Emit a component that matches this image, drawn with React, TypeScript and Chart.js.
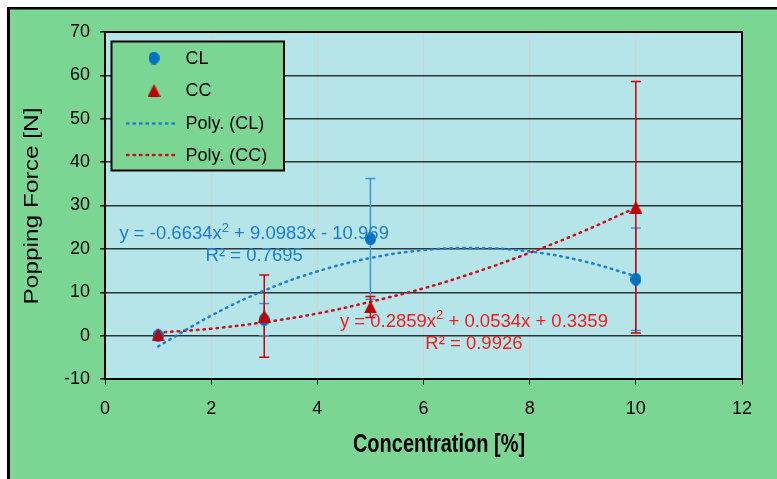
import React, { useEffect, useRef } from "react";
import { Chart, registerables } from "chart.js";

Chart.register(...registerables);

// ---- data ----
const concentrations = [1, 3, 5, 10];
const clValues = [0.0, 3.7, 22.3, 13.0];
const clErrors = [0.3, 3.7, 13.9, 11.8];
const ccValues = [0.2, 4.5, 6.6, 29.6];
const ccErrors = [0.3, 9.5, 2.4, 29.0];

const trendX = [1, 2, 3, 4, 5, 6, 7, 8, 9, 10];
const polyCL = [-2.5, 4.6, 10.4, 14.8, 17.9, 19.7, 20.2, 19.4, 17.2, 13.7];
const polyCC = [0.7, 1.6, 3.1, 5.1, 7.8, 10.9, 14.7, 19.1, 24.0, 29.5];

const xMin = 0;
const xMax = 12;
const xStep = 2;
const yMin = -10;
const yMax = 70;
const yStep = 10;

const legendLabels = ["CL", "CC", "Poly. (CL)", "Poly. (CC)"];
// equation parts: [before superscript, superscript, after superscript]
const eqCL = ["y = -0.6634x", "2", " + 9.0983x - 10.969"];
const r2CL = "R² = 0.7695";
const eqCC = ["y = 0.2859x", "2", " + 0.0534x + 0.3359"];
const r2CC = "R² = 0.9926";
const xTitle = "Concentration [%]";
const yTitle = "Popping Force [N]";

// ---- styles ----
const GREEN = "#7cd693";
const PLOT_BG = "#b5e5e8";
const BLUE = "#0070c0";
const BLUE_ERR = "#3d92d6";
const BLUE_TREND = "#1f7fd0";
const BLUE_TEXT = "#1b7dcd";
const RED = "#c00000";
const RED_ERR = "#d00000";
const RED_TREND = "#c8101c";
const RED_TEXT = "#f01c1c";
const FONT = "'Liberation Sans', Arial, sans-serif";

function makeEllipse(w: number, h: number, color: string) {
  const c = document.createElement("canvas");
  c.width = w;
  c.height = h;
  const ctx = c.getContext("2d")!;
  ctx.fillStyle = color;
  ctx.beginPath();
  ctx.ellipse(w / 2, h / 2, w / 2, h / 2, 0, 0, Math.PI * 2);
  ctx.fill();
  return c;
}

function makeTriangle(w: number, h: number, color: string) {
  const c = document.createElement("canvas");
  c.width = w;
  c.height = h;
  const ctx = c.getContext("2d")!;
  ctx.fillStyle = color;
  ctx.beginPath();
  ctx.moveTo(w / 2, 0);
  ctx.lineTo(w, h);
  ctx.lineTo(0, h);
  ctx.closePath();
  ctx.fill();
  return c;
}

function drawSupText(ctx: CanvasRenderingContext2D, parts: string[], cx: number, cy: number, size: number) {
  const main = `${size}px ${FONT}`;
  const sup = `${Math.round(size * 0.68)}px ${FONT}`;
  ctx.font = main;
  const w0 = ctx.measureText(parts[0]).width;
  const w2 = ctx.measureText(parts[2]).width;
  ctx.font = sup;
  const w1 = ctx.measureText(parts[1]).width;
  const total = w0 + w1 + w2;
  let x = cx - total / 2;
  ctx.textAlign = "left";
  ctx.textBaseline = "middle";
  ctx.font = main;
  ctx.fillText(parts[0], x, cy);
  x += w0;
  ctx.font = sup;
  ctx.fillText(parts[1], x, cy - size * 0.33);
  x += w1;
  ctx.font = main;
  ctx.fillText(parts[2], x, cy);
}

export default function App() {
  const ref = useRef<HTMLCanvasElement | null>(null);

  useEffect(() => {
    const canvas = ref.current;
    if (!canvas) return;

    const circleImg = makeEllipse(11, 13, BLUE);
    const triImg = makeTriangle(13, 13, RED);

    const drawErrorBars = (chart: any, values: number[], errs: number[], color: string) => {
      const { ctx } = chart;
      const xs = chart.scales.x;
      const ys = chart.scales.y;
      ctx.save();
      ctx.strokeStyle = color;
      ctx.lineWidth = 1.5;
      for (let i = 0; i < concentrations.length; i++) {
        const px = xs.getPixelForValue(concentrations[i]);
        const top = ys.getPixelForValue(values[i] + errs[i]);
        const bot = ys.getPixelForValue(values[i] - errs[i]);
        ctx.beginPath();
        ctx.moveTo(px, top);
        ctx.lineTo(px, bot);
        ctx.moveTo(px - 5, top);
        ctx.lineTo(px + 5, top);
        ctx.moveTo(px - 5, bot);
        ctx.lineTo(px + 5, bot);
        ctx.stroke();
      }
      ctx.restore();
    };

    const plugin = {
      id: "custom",
      beforeDraw(chart: any) {
        const { ctx, chartArea: a, width, height } = chart;
        ctx.save();
        ctx.fillStyle = GREEN;
        ctx.fillRect(0, 0, width, height);
        ctx.fillStyle = "#000";
        ctx.fillRect(0, 0, width, 2.5);
        ctx.fillRect(0, 0, 3, height);
        ctx.fillStyle = PLOT_BG;
        ctx.fillRect(a.left, a.top, a.right - a.left, a.bottom - a.top);
        ctx.restore();
      },
      beforeDatasetsDraw(chart: any) {
        drawErrorBars(chart, clValues, clErrors, BLUE_ERR);
        drawErrorBars(chart, ccValues, ccErrors, RED_ERR);
      },
      afterDatasetsDraw(chart: any) {
        const { ctx, chartArea: a } = chart;
        const xs = chart.scales.x;
        const ys = chart.scales.y;
        ctx.save();
        // plot border
        ctx.strokeStyle = "#000";
        ctx.lineWidth = 2;
        ctx.strokeRect(a.left, a.top, a.right - a.left, a.bottom - a.top);

        // equations
        ctx.fillStyle = BLUE_TEXT;
        drawSupText(ctx, eqCL, xs.getPixelForValue(2.81), ys.getPixelForValue(23.4), 18.5);
        ctx.textAlign = "center";
        ctx.font = `18.5px ${FONT}`;
        ctx.fillText(r2CL, xs.getPixelForValue(2.81), ys.getPixelForValue(18.3));
        ctx.fillStyle = RED_TEXT;
        drawSupText(ctx, eqCC, xs.getPixelForValue(6.95), ys.getPixelForValue(3.2), 18.5);
        ctx.textAlign = "center";
        ctx.font = `18.5px ${FONT}`;
        ctx.fillText(r2CC, xs.getPixelForValue(6.95), ys.getPixelForValue(-2.0));

        // legend box
        const lx = 104.5, ly = 34.5, lw = 172.5, lh = 129;
        ctx.fillStyle = GREEN;
        ctx.fillRect(lx, ly, lw, lh);
        ctx.strokeStyle = "#000";
        ctx.lineWidth = 2;
        ctx.strokeRect(lx, ly, lw, lh);
        const rows = [51, 83.5, 116.5, 148];
        const mx = 147;
        ctx.drawImage(circleImg, mx - circleImg.width / 2, rows[0] - circleImg.height / 2);
        ctx.drawImage(triImg, mx - triImg.width / 2, rows[1] - triImg.height / 2);
        ctx.lineWidth = 2.5;
        ctx.lineCap = "round";
        ctx.setLineDash([1.5, 5]);
        ctx.strokeStyle = BLUE_TREND;
        ctx.beginPath();
        ctx.moveTo(120, rows[2]);
        ctx.lineTo(169, rows[2]);
        ctx.stroke();
        ctx.strokeStyle = RED_TREND;
        ctx.beginPath();
        ctx.moveTo(120, rows[3]);
        ctx.lineTo(169, rows[3]);
        ctx.stroke();
        ctx.setLineDash([]);
        ctx.fillStyle = "#000";
        ctx.font = `18px ${FONT}`;
        ctx.textAlign = "left";
        ctx.textBaseline = "middle";
        legendLabels.forEach((t, i) => ctx.fillText(t, 178.5, rows[i] + 1));

        // axis titles
        ctx.textAlign = "center";
        ctx.save();
        ctx.translate(432, 438);
        ctx.scale(1, 1.3);
        ctx.font = `bold 20px ${FONT}`;
        ctx.fillText(xTitle, 0, 0);
        ctx.restore();

        ctx.save();
        ctx.translate(25.5, 199);
        ctx.rotate(-Math.PI / 2);
        ctx.font = `21px ${FONT}`;
        const w = ctx.measureText(yTitle).width;
        ctx.scale(197 / w, 1);
        ctx.fillText(yTitle, 0, 0);
        ctx.restore();

        ctx.restore();
      },
    };

    const chart = new Chart(canvas, {
      type: "scatter",
      data: {
        datasets: [
          {
            label: legendLabels[0],
            data: concentrations.map((x, i) => ({ x, y: clValues[i] })),
            pointStyle: circleImg as any,
            pointRadius: 6,
            backgroundColor: BLUE,
            borderColor: BLUE,
            order: 1,
          },
          {
            label: legendLabels[1],
            data: concentrations.map((x, i) => ({ x, y: ccValues[i] })),
            pointStyle: triImg as any,
            pointRadius: 6,
            backgroundColor: RED,
            borderColor: RED,
            order: 0,
          },
          {
            type: "line",
            label: legendLabels[2],
            data: trendX.map((x, i) => ({ x, y: polyCL[i] })),
            borderColor: BLUE_TREND,
            borderWidth: 2.5,
            borderDash: [1.5, 5],
            borderCapStyle: "round",
            pointRadius: 0,
            tension: 0.4,
            fill: false,
            order: 2,
          } as any,
          {
            type: "line",
            label: legendLabels[3],
            data: trendX.map((x, i) => ({ x, y: polyCC[i] })),
            borderColor: RED_TREND,
            borderWidth: 2.5,
            borderDash: [1.5, 5],
            borderCapStyle: "round",
            pointRadius: 0,
            tension: 0.4,
            fill: false,
            order: 3,
          } as any,
        ],
      },
      options: {
        responsive: false,
        animation: false,
        devicePixelRatio: 1,
        layout: { padding: { left: 0, top: 25, right: 35, bottom: 40 } },
        plugins: {
          legend: { display: false },
          tooltip: { enabled: false },
        },
        scales: {
          x: {
            type: "linear",
            min: xMin,
            max: xMax,
            ticks: {
              stepSize: xStep,
              color: "#000",
              font: { family: FONT, size: 18 },
              padding: 13,
              maxRotation: 0,
            },
            grid: {
              color: "#d2d2d2",
              lineWidth: 1,
              tickColor: "#000",
              tickLength: 6,
              drawTicks: true,
            },
            border: { display: false },
            afterFit: (s: any) => {
              s.height = 60;
            },
          },
          y: {
            type: "linear",
            min: yMin,
            max: yMax,
            ticks: {
              stepSize: yStep,
              color: "#000",
              font: { family: FONT, size: 18 },
              padding: 10,
            },
            grid: {
              color: "#2c3535",
              lineWidth: 1.5,
              tickColor: "#000",
              tickLength: 5,
              drawTicks: true,
            },
            border: { display: false },
            afterFit: (s: any) => {
              s.width = 98;
            },
          },
        },
      },
      plugins: [plugin],
    });

    return () => chart.destroy();
  }, []);

  return (
    <div style={{ position: "fixed", left: 7, top: 7, width: 770, height: 472 }}>
      <canvas ref={ref} width={770} height={472} style={{ display: "block" }} />
    </div>
  );
}
